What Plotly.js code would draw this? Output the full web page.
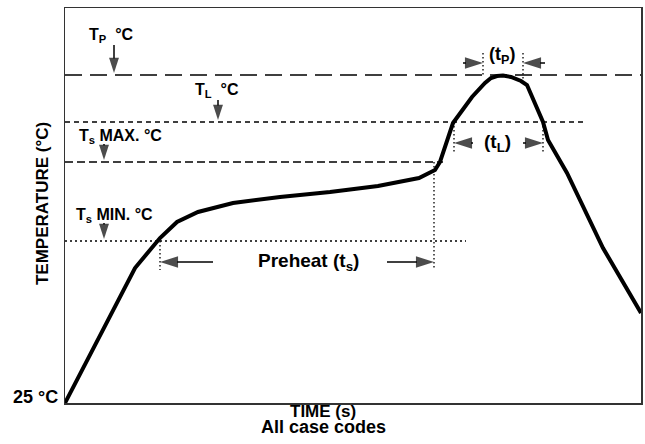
<!DOCTYPE html>
<html>
<head>
<meta charset="utf-8">
<script src="https://cdn.plot.ly/plotly-3.0.1.min.js"></script>
<style>html,body{margin:0;padding:0;background:#fff;}#chart{width:645px;height:444px;}</style>
</head>
<body>
<div id="chart"></div>
<script>
// Reflow profile (schematic units: time from start, temperature above 25 °C)
const time = [0, 70, 95, 112, 133, 168, 215, 265, 313, 354, 370, 375, 388, 407, 420, 426, 432, 438, 446, 456, 462, 478, 483, 502, 538, 562, 576];
const temp = [0, 135, 165, 181, 191, 200, 206, 211, 217, 225, 233, 241, 280, 306, 320, 325, 327, 327.5, 326, 322, 318, 281, 263, 230, 155, 113, 90];

// Reference temperature levels
const levelNames = ['TP', 'TL', 'TsMax', 'TsMin'];
const levelValues = [328, 281, 241, 162];
const levelEnds = [576, 519, 378, 401];
const levelDash = ['17px,8px', '5px,4px', '8px,4px', '2px,3px'];

// Time markers (dotted verticals): x, yTop, yBottom
const markerX = [95, 369, 389, 478, 418, 458];
const markerTop = [162, 241, 281, 281, 350, 350];
const markerBottom = [133, 133, 250, 250, 328, 322];

// Interval arrows: tail x, head x, y
const spanTailX = [148, 322, 408, 458, 398, 480];
const spanHeadX = [95, 369, 389, 478, 418, 458];
const spanY = [141, 141, 260, 260, 340, 340];

// Level label arrows: x, tail y, head y
const labelArrowX = [49, 153, 39, 39];
const labelArrowTail = [358, 303, 259, 180];
const labelArrowHead = [330, 283, 243, 164];

// Texts
const levelLabels = ['T<sub>P</sub>  °C', 'T<sub>L</sub>  °C', 'T<sub>s</sub> MAX. °C', 'T<sub>s</sub> MIN. °C'];
const levelLabelX = [46, 152, 55, 49];
const levelLabelY = [368, 313, 267, 188];
const spanLabels = ['Preheat (t<sub>s</sub>)', '(t<sub>L</sub>)', '(t<sub>P</sub>)'];
const spanLabelX = [243, 432, 437];
const spanLabelY = [141, 260, 348];
const spanLabelSize = [19, 19, 18];

const FONT = 'Liberation Sans, Arial, Helvetica, sans-serif';
const traces = [];

levelValues.forEach((v, i) => {
  traces.push({x: [0, levelEnds[i]], y: [v, v], mode: 'lines', hoverinfo: 'skip',
    line: {color: '#000', width: 1.3, dash: levelDash[i]}});
});
markerX.forEach((x, i) => {
  traces.push({x: [x, x], y: [markerTop[i], markerBottom[i]], mode: 'lines', hoverinfo: 'skip',
    line: {color: '#000', width: 1.3, dash: '1.5px,2.5px'}});
});
spanTailX.forEach((x, i) => {
  traces.push({x: [x, spanHeadX[i]], y: [spanY[i], spanY[i]], mode: 'lines+markers', hoverinfo: 'skip',
    line: {color: '#000', width: 1.5},
    marker: {symbol: 'arrow', size: [0, 19], angleref: 'previous', color: '#000', line: {width: 0}}});
});
labelArrowX.forEach((x, i) => {
  traces.push({x: [x, x], y: [labelArrowTail[i], labelArrowHead[i]], mode: 'lines+markers', hoverinfo: 'skip',
    line: {color: '#000', width: 1.5},
    marker: {symbol: 'arrow', size: [0, 16], angleref: 'previous', color: '#000', line: {width: 0}}});
});
traces.push({x: time, y: temp, mode: 'lines', hoverinfo: 'skip',
  line: {color: '#000', width: 4, shape: 'linear'}});

const annotations = [];
levelLabels.forEach((t, i) => annotations.push({x: levelLabelX[i], y: levelLabelY[i], xref: 'x', yref: 'y',
  text: t, showarrow: false, font: {family: FONT, size: 16, color: '#000', weight: 'bold'}}));
spanLabels.forEach((t, i) => annotations.push({x: spanLabelX[i], y: spanLabelY[i], xref: 'x', yref: 'y',
  text: t, showarrow: false, font: {family: FONT, size: spanLabelSize[i], color: '#000', weight: 'bold'}}));
annotations.push({x: -0.009, y: 0.015, xref: 'paper', yref: 'paper', xanchor: 'right', yanchor: 'middle',
  text: '25 °C', showarrow: false, font: {family: FONT, size: 18, color: '#000', weight: 'bold'}});
annotations.push({x: -0.04, y: 0.506, xref: 'paper', yref: 'paper', xanchor: 'center', yanchor: 'middle', textangle: -90,
  text: 'TEMPERATURE (°C)', showarrow: false, font: {family: FONT, size: 17, color: '#000', weight: 'bold'}});
annotations.push({x: 0.448, y: -0.021, xref: 'paper', yref: 'paper', xanchor: 'center', yanchor: 'middle',
  text: 'TIME (s)', showarrow: false, font: {family: FONT, size: 17, color: '#000', weight: 'bold'}});
annotations.push({x: 0.448, y: -0.06, xref: 'paper', yref: 'paper', xanchor: 'center', yanchor: 'middle',
  text: 'All case codes', showarrow: false, font: {family: FONT, size: 18, color: '#000', weight: 'bold'}});

const layout = {
  width: 645, height: 444,
  margin: {l: 65, r: 4, t: 8, b: 41},
  paper_bgcolor: '#fff', plot_bgcolor: '#fff',
  showlegend: false,
  xaxis: {range: [0, 576], showgrid: false, zeroline: false, showticklabels: false, ticks: '',
    showline: true, mirror: true, linecolor: '#333', linewidth: 1.5, fixedrange: true},
  yaxis: {range: [0, 395], showgrid: false, zeroline: false, showticklabels: false, ticks: '',
    showline: true, mirror: true, linecolor: '#333', linewidth: 1.5, fixedrange: true},
  annotations: annotations
};

Plotly.newPlot('chart', traces, layout, {staticPlot: true, displayModeBar: false});
</script>
</body>
</html>
